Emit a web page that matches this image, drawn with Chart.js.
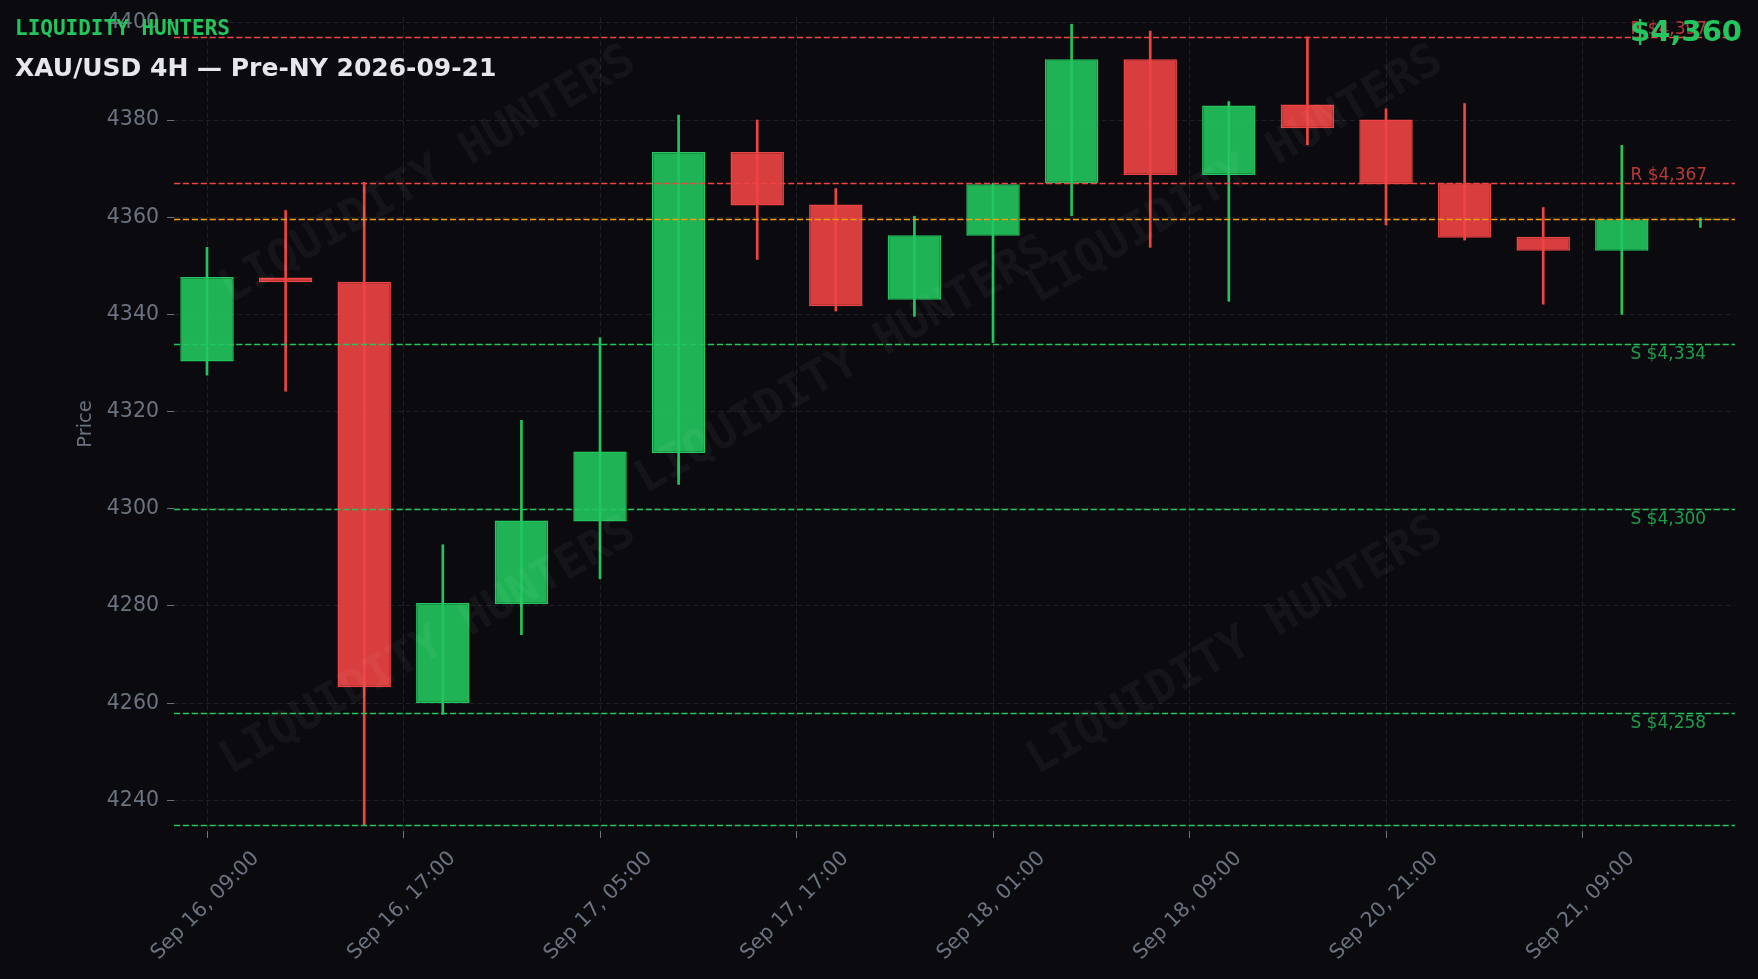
<!DOCTYPE html>
<html>
<head>
<meta charset="utf-8">
<title>XAU/USD 4H</title>
<script src="https://cdn.jsdelivr.net/npm/chart.js@4.4.0/dist/chart.umd.min.js"></script>
<style>
    html, body { margin: 0; padding: 0; background: #0b0b0f; }
    #wrap { width: 1758px; height: 979px; position: relative; }
</style>
</head>
<body>
<div id="wrap"><canvas id="myChart"></canvas></div>
<script>
// 4H candles, Sep 16 -> Sep 21 (weekend gap after Sep 18 17:00)
const times = ['Sep 16, 09:00', 'Sep 16, 13:00', 'Sep 16, 17:00', 'Sep 16, 21:00', 'Sep 17, 01:00',
    'Sep 17, 05:00', 'Sep 17, 09:00', 'Sep 17, 13:00', 'Sep 17, 17:00', 'Sep 17, 21:00',
    'Sep 18, 01:00', 'Sep 18, 05:00', 'Sep 18, 09:00', 'Sep 18, 13:00', 'Sep 18, 17:00',
    'Sep 20, 21:00', 'Sep 21, 01:00', 'Sep 21, 05:00', 'Sep 21, 09:00', 'Sep 21, 13:00'];
const opens  = [4330.3, 4347.6, 4346.7, 4260.0, 4280.4, 4297.4, 4311.5, 4373.4, 4362.6, 4343.0,
    4356.2, 4367.0, 4392.5, 4368.7, 4383.2, 4380.1, 4367.0, 4356.0, 4353.1, 4359.5];
const highs  = [4353.8, 4361.4, 4367.2, 4292.6, 4318.2, 4335.2, 4381.0, 4380.0, 4365.9, 4360.2,
    4367.0, 4399.7, 4398.3, 4383.8, 4397.1, 4382.3, 4383.4, 4362.0, 4374.8, 4359.9];
const lows   = [4327.5, 4324.2, 4235.0, 4257.7, 4274.1, 4285.6, 4305.0, 4351.3, 4340.7, 4339.6,
    4334.2, 4360.3, 4353.8, 4342.7, 4374.9, 4358.4, 4355.3, 4342.1, 4340.0, 4357.9];
const closes = [4347.7, 4346.6, 4263.3, 4280.6, 4297.6, 4311.8, 4373.4, 4362.4, 4341.7, 4356.3,
    4366.8, 4392.5, 4368.7, 4383.0, 4378.3, 4366.8, 4355.8, 4353.1, 4359.6, 4359.7];

// x ticks sit between candles (index units)
const xTickPos = [0, 2.5, 5, 7.5, 10, 12.5, 15, 17.5];
const xTickLabels = ['Sep 16, 09:00', 'Sep 16, 17:00', 'Sep 17, 05:00', 'Sep 17, 17:00',
    'Sep 18, 01:00', 'Sep 18, 09:00', 'Sep 20, 21:00', 'Sep 21, 09:00'];

// key levels
const resistance = [4397, 4367];
const support = [4334, 4300, 4258];
const sweepLow = 4235;
const lastPrice = 4359.6;

const GREEN = '#22c55e';
const RED = '#ef4444';
const ORANGE = '#f59e0b';
const MUTED = '#6b7280';

Chart.defaults.font.family = '"DejaVu Sans", sans-serif';

var fills = opens.map(function (o, i) {
    return closes[i] >= o ? 'rgba(34,197,94,0.9)' : 'rgba(239,68,68,0.9)';
});
var edges = opens.map(function (o, i) {
    return closes[i] >= o ? GREEN : RED;
});

function money(v) {
    return '$' + Math.round(v).toLocaleString('en-US');
}

const background = {
    id: 'background',
    beforeDraw(chart) {
        const ctx = chart.ctx;
        ctx.save();
        ctx.fillStyle = '#0b0b0f';
        ctx.fillRect(0, 0, chart.width, chart.height);
        ctx.restore();
    }
};

const overlay = {
    id: 'overlay',
    afterDatasetsDraw(chart) {
        const {ctx, chartArea: a, scales: {y}} = chart;
        const w = a.right - a.left, h = a.bottom - a.top;

        ctx.save();
        ctx.beginPath();
        ctx.rect(a.left, a.top, w, h);
        ctx.clip();

        // watermark
        ctx.font = 'bold 46px "DejaVu Sans Mono"';
        ctx.fillStyle = 'rgba(255,255,255,0.045)';
        ctx.textAlign = 'center';
        ctx.textBaseline = 'middle';
        [[0.163, 0.195], [0.68, 0.195], [0.429, 0.429], [0.163, 0.774], [0.68, 0.774]].forEach(function (p) {
            ctx.save();
            ctx.translate(a.left + p[0] * w, a.top + p[1] * h);
            ctx.rotate(-30 * Math.PI / 180);
            ctx.fillText('LIQUIDITY HUNTERS', 0, 0);
            ctx.restore();
        });

        // level lines
        ctx.lineWidth = 1.6;
        ctx.setLineDash([6.2, 2.7]);
        function hline(v, color) {
            const py = Math.round(y.getPixelForValue(v)) + 0.5;
            ctx.strokeStyle = color;
            ctx.beginPath();
            ctx.moveTo(a.left, py);
            ctx.lineTo(a.right, py);
            ctx.stroke();
        }
        resistance.forEach(function (v) { hline(v, RED); });
        support.forEach(function (v) { hline(v, GREEN); });
        hline(sweepLow, GREEN);
        hline(lastPrice, ORANGE);
        ctx.restore();

        // level labels
        ctx.save();
        ctx.font = '17px "DejaVu Sans"';
        ctx.textAlign = 'left';
        ctx.textBaseline = 'alphabetic';
        const lx = a.left + 0.933 * w;
        ctx.fillStyle = 'rgba(239,68,68,0.78)';
        resistance.forEach(function (v) {
            ctx.fillText('R ' + money(v), lx, y.getPixelForValue(v) - 3);
        });
        ctx.fillStyle = 'rgba(34,197,94,0.78)';
        support.forEach(function (v) {
            ctx.fillText('S ' + money(v), lx, y.getPixelForValue(v) + 15);
        });
        ctx.restore();
    },
    afterDraw(chart) {
        const ctx = chart.ctx;
        ctx.save();
        ctx.textBaseline = 'alphabetic';
        ctx.textAlign = 'left';
        ctx.fillStyle = GREEN;
        ctx.font = 'bold 21px "DejaVu Sans Mono"';
        ctx.fillText('LIQUIDITY HUNTERS', 15, 34.5);
        ctx.fillStyle = '#e5e7eb';
        ctx.font = 'bold 25px "DejaVu Sans"';
        ctx.fillText('XAU/USD 4H \u2014 Pre-NY 2026-09-21', 15, 76);
        ctx.textAlign = 'right';
        ctx.fillStyle = GREEN;
        ctx.font = 'bold 29px "DejaVu Sans"';
        ctx.fillText(money(lastPrice), 1742, 41);
        ctx.restore();
    }
};

var ctx = document.getElementById('myChart').getContext('2d');

var chart = new Chart(ctx, {
    type: 'bar',
    data: {
        datasets: [{
            label: 'Body',
            data: opens.map(function (o, i) { return {x: i, y: [o, closes[i]]}; }),
            backgroundColor: fills,
            borderColor: edges,
            borderWidth: 1.5,
            borderSkipped: false,
            barPercentage: 0.68,
            categoryPercentage: 1,
            grouped: false,
            order: 0
        },
        {
            label: 'Wick',
            data: lows.map(function (l, i) { return {x: i, y: [l, highs[i]]}; }),
            backgroundColor: edges,
            borderWidth: 0,
            barThickness: 2,
            grouped: false,
            order: 1
        }]
    },
    options: {
        responsive: true,
        maintainAspectRatio: false,
        devicePixelRatio: 1,
        animation: false,
        layout: { padding: { top: 17, right: 23, left: 0, bottom: 0 } },
        plugins: {
            legend: { display: false },
            tooltip: { enabled: false }
        },
        scales: {
            x: {
                type: 'linear',
                min: -0.42,
                max: 19.44,
                offset: false,
                afterBuildTicks: function (scale) {
                    scale.ticks = xTickPos.map(function (v) { return {value: v}; });
                },
                afterFit: function (scale) {
                    scale.height = 148;
                    scale.paddingLeft = 0;
                    scale.paddingRight = 0;
                },
                grid: { color: '#1e1f27', lineWidth: 1, offset: false, tickColor: MUTED, tickLength: 7 },
                border: { display: false, dash: [5, 3] },
                ticks: {
                    autoSkip: false,
                    minRotation: 45,
                    maxRotation: 45,
                    labelOffset: 49,
                    padding: 8.5,
                    color: MUTED,
                    font: { size: 20.5 },
                    callback: function (value, index) { return xTickLabels[index]; }
                }
            },
            y: {
                min: 4233.7,
                max: 4401.2,
                beginAtZero: false,
                afterFit: function (scale) {
                    scale.width = 174;
                    scale.paddingTop = 0;
                    scale.paddingBottom = 0;
                },
                grid: { color: '#1e1f27', lineWidth: 1, tickColor: MUTED, tickLength: 7 },
                border: { display: false, dash: [5, 3] },
                title: {
                    display: true,
                    text: 'Price',
                    color: MUTED,
                    font: { size: 19.5 },
                    padding: { top: 74.5, bottom: 0 }
                },
                ticks: {
                    stepSize: 20,
                    includeBounds: false,
                    padding: 8,
                    color: MUTED,
                    font: { size: 20.5 },
                    callback: function (value) { return String(value); }
                }
            }
        }
    },
    plugins: [background, overlay]
});
</script>
</body>
</html>
